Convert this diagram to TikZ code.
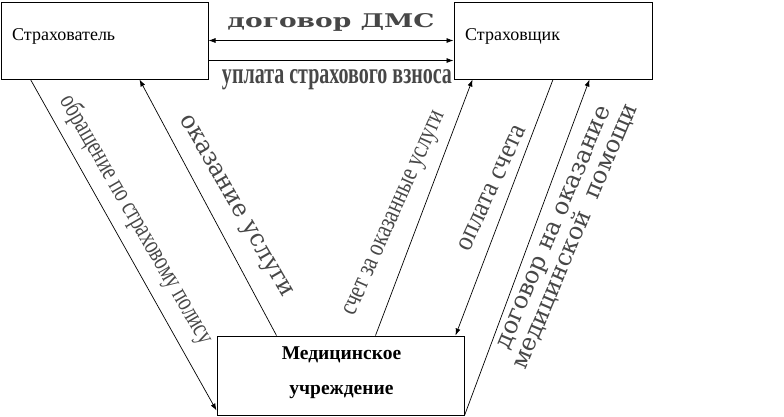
\documentclass[tikz,border=0pt]{standalone}
\usepackage{fontspec}
\usepackage{graphicx}
\setmainfont{Liberation Serif}
\newfontfamily\dvsans{DejaVu Sans}
\newfontfamily\dvserif{DejaVu Serif}
\usetikzlibrary{arrows.meta,calc}
\definecolor{wordart}{rgb}{0.28,0.28,0.28}
\begin{document}
\begin{tikzpicture}[x=1pt,y=-1pt,
  box/.style={draw,line width=1pt,inner sep=0pt},
  conn/.style={line width=0.7pt},
  tip/.style={-{Latex[length=7pt,width=5pt]}},
  dtip/.style={{Latex[length=7pt,width=5pt]}-{Latex[length=7pt,width=5pt]}},
  art/.style={text=wordart,inner sep=0pt},
  lbl/.style={inner sep=0pt,anchor=base west,font=\fontsize{18}{20}\selectfont},
  mlbl/.style={inner sep=0pt,anchor=base,font=\bfseries\fontsize{19.5}{22}\selectfont}]
\useasboundingbox (0,0) rectangle (784,416);
% boxes
\node[box,minimum width=207pt,minimum height=77pt] (A) at (104.5,40.5) {};
\node[box,minimum width=198pt,minimum height=77pt] (B) at (553,40.5) {};
\node[box,minimum width=247pt,minimum height=79pt] (M) at (340.5,375.5) {};
\node[lbl] (tA) at (12,40) {Страхователь};
\node[lbl] (tB) at (465,40) {Страховщик};
\node[mlbl] (tM1) at (341.5,359) {Медицинское};
\node[mlbl] (tM2) at (341.5,394) {учреждение};
% connectors
\draw[conn,dtip] (A.east) -- (B.west);
\draw[conn,tip] ([yshift=-20pt]A.east) -- ([yshift=-20pt]B.west);
\draw[conn,tip] ([xshift=30pt]A.south west) -- ([yshift=5pt]M.south west);
\draw[conn,tip] ([xshift=60pt]M.north west) -- ([xshift=139pt]A.south west);
\draw[conn,tip] ([xshift=159pt]M.north west) -- ([xshift=19pt]B.south west);
\draw[conn,tip] (B.south) -- ([xshift=-9pt]M.north east);
\draw[conn,tip] (M.south east) -- ([xshift=136pt]B.south west);
% labels
\node[art,anchor=base] (d1) at (331,27) {\resizebox{207pt}{14pt}{\dvserif\bfseries договор ДМС}};
\node[art,anchor=base] (d2) at (337,83) {\resizebox{230pt}{14pt}{\bfseries уплата страхового взноса}};
\node[art,rotate=-60] (l1) at (136,220) {\resizebox{283pt}{19pt}{обращение по страховому полису}};
\node[art,rotate=-60] (l2) at (235,207) {\resizebox{207pt}{13pt}{\dvserif оказание услуги}};
\node[art,rotate=66] (l3) at (396,214) {\resizebox{222pt}{12.5pt}{счет за оказанные услуги}};
\node[art,rotate=65] (l4) at (492,188) {\resizebox{136pt}{13pt}{оплата счета}};
\node[art,rotate=67] (l5) at (567,233) {\resizebox{286pt}{!}{\dvserif\fontsize{22}{17.5}\selectfont\begin{tabular}{@{}c@{}}договор на оказание\\медицинской\ \ помощи\end{tabular}}};
\end{tikzpicture}
\end{document}
